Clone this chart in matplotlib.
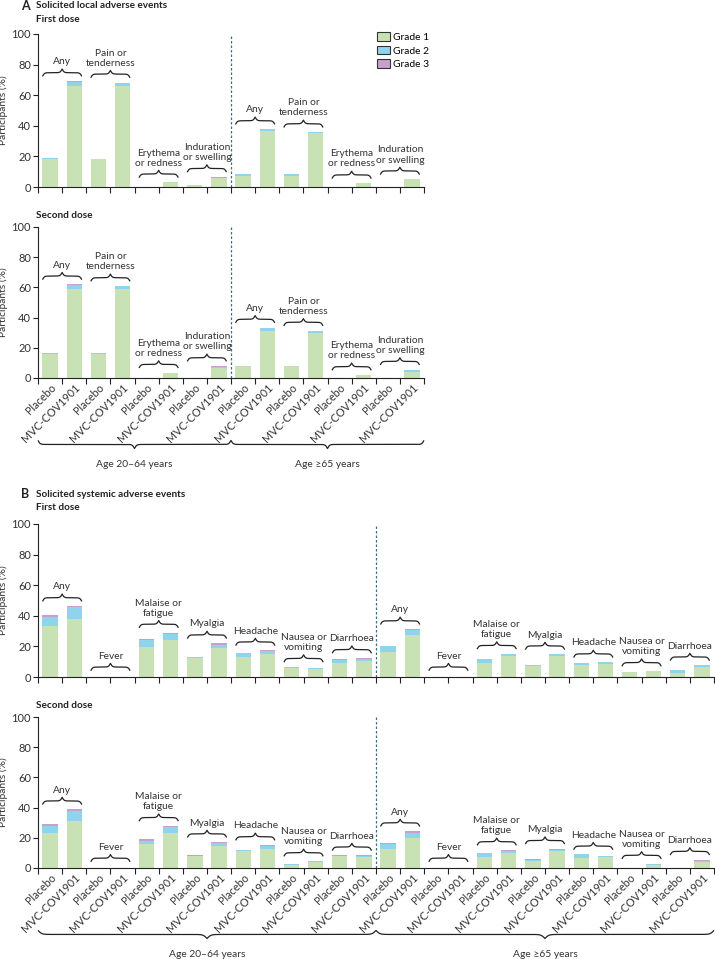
import numpy as np
import matplotlib.pyplot as plt
from matplotlib.patches import Patch

plt.rcParams['font.family'] = ['Lato', 'DejaVu Sans']

# --- Data (percent of participants) ---
groups = ["Placebo", "MVC-COV1901"]
ages = ["Age 20\u201364 years", "Age \u226565 years"]

local_cats = ["Any", "Pain or\ntenderness", "Erythema\nor redness", "Induration\nor swelling"]
sys_cats = ["Any", "Fever", "Malaise or\nfatigue", "Myalgia", "Headache", "Nausea or\nvomiting", "Diarrhoea"]

# order per age group: cat1 placebo, cat1 vaccine, cat2 placebo, ...
local_d1_g1 = [18.0, 66.0, 18.0, 66.0, 0, 3.0, 1.2, 5.8,
               7.2, 36.7, 7.2, 35.1, 0, 2.4, 0, 5.0]
local_d1_g2 = [0.8, 2.5, 0.3, 1.8, 0, 0, 0, 0.4,
               1.5, 1.1, 1.5, 0.7, 0, 0, 0, 0]
local_d1_g3 = [0, 0.7, 0, 0.5, 0, 0, 0, 0.4,
               0, 0, 0, 0, 0, 0, 0, 0]

local_d2_g1 = [15.8, 58.7, 15.8, 58.7, 0, 3.5, 0, 6.4,
               7.9, 31.4, 7.9, 29.9, 0, 2.0, 0, 4.2]
local_d2_g2 = [0.5, 2.6, 0.7, 2.0, 0, 0, 0, 1.0,
               0, 1.6, 0, 1.1, 0, 0, 0, 1.3]
local_d2_g3 = [0.2, 0.7, 0, 0.2, 0, 0, 0, 0.5,
               0, 0.4, 0, 0.4, 0, 0, 0, 0]

sys_d1_g1 = [33.2, 37.6, 0, 0.3, 19.7, 24.2, 12.7, 19.0, 13.1, 14.8, 5.9, 5.0, 9.0, 10.3,
             16.4, 27.7, 0, 0, 9.0, 14.0, 7.0, 13.5, 7.9, 8.7, 3.1, 3.9, 2.6, 6.6]
sys_d1_g2 = [6.1, 7.9, 0, 0, 4.3, 4.0, 0.6, 2.2, 2.6, 2.0, 0.5, 0.7, 2.0, 1.6,
             3.7, 2.8, 0, 0, 2.6, 0.8, 1.1, 1.3, 1.3, 0.9, 0, 0, 2.0, 1.0]
sys_d1_g3 = [0.9, 0.8, 0, 0, 0.6, 0.8, 0, 0.8, 0, 0.6, 0.2, 0, 0.6, 0.5,
             0, 0.7, 0, 0, 0, 0.3, 0, 0, 0, 0, 0, 0, 0, 0]

sys_d2_g1 = [23.5, 30.8, 0, 0, 15.6, 23.1, 7.7, 14.3, 11.0, 12.5, 2.2, 3.7, 7.9, 7.0,
             12.5, 20.0, 0, 0.2, 7.5, 9.7, 4.4, 11.2, 6.8, 7.5, 0.3, 2.0, 0.3, 4.0]
sys_d2_g2 = [4.6, 7.2, 0, 0, 2.6, 4.2, 0.3, 2.2, 1.1, 2.2, 0.7, 0.7, 0.2, 1.2,
             3.3, 3.5, 0, 0, 2.2, 1.5, 1.1, 1.0, 2.2, 0.6, 0, 0.9, 0, 0.9]
sys_d2_g3 = [0.9, 0.9, 0, 0, 0.7, 0.6, 0.8, 0.6, 0, 0.5, 0, 0.2, 0.3, 0.2,
             0.7, 0.9, 0, 0, 0, 0.7, 0.7, 0.5, 0, 0, 0, 0, 0, 0.6]

# --- Style ---
C_G1 = '#c8e2b6'
C_G2 = '#8ed4ec'
C_G3 = '#c8a0c9'
INK = '#222222'
TXT = '#333333'
DASH = '#3b7282'
FS = 7.4
W_PX, H_PX = 715, 959
BAR_W = 0.63


def draw_brace(ax, x0, x1, y, h, beta=20, flip=False, lw=0.9):
    t = np.linspace(0, 1, 150)
    half = 1 / (1 + np.exp(-beta * t)) + 1 / (1 + np.exp(-beta * (t - 1))) - 1
    xm = (x0 + x1) / 2
    xs = np.concatenate([x0 + t * (xm - x0), xm + t * (x1 - xm)])
    ys = np.concatenate([half, half[::-1]])
    if flip:
        ys = -ys
    ax.plot(xs, y + h * ys, color=INK, lw=lw, clip_on=False, solid_capstyle='butt')


def ax_rect(left_px, top_px, right_px, bottom_px):
    return [left_px / W_PX, 1 - bottom_px / H_PX,
            (right_px - left_px) / W_PX, (bottom_px - top_px) / H_PX]


def draw_panel(ax, cats, g1, g2, g3, show_labels, age_bracket):
    g1, g2, g3 = np.array(g1), np.array(g2), np.array(g3)
    n = len(g1)
    x = np.arange(n)
    ax.bar(x, g1, BAR_W, color=C_G1, linewidth=0)
    ax.bar(x, g2, BAR_W, bottom=g1, color=C_G2, linewidth=0)
    ax.bar(x, g3, BAR_W, bottom=g1 + g2, color=C_G3, linewidth=0)
    ax.set_xlim(-0.5, n - 0.5)
    ax.set_ylim(0, 100)

    for s in ['top', 'right']:
        ax.spines[s].set_visible(False)
    for s in ['left', 'bottom']:
        ax.spines[s].set_linewidth(0.8)
        ax.spines[s].set_color(INK)
    ax.set_yticks([0, 20, 40, 60, 80, 100])
    ax.tick_params(axis='y', labelsize=FS + 0.6, length=3.5, width=0.8, color=INK,
                   labelcolor=TXT, pad=1.5)
    ax.set_xticks(np.arange(-0.5, n, 1.0))
    ax.set_xticklabels([])
    ax.tick_params(axis='x', which='major', length=4, width=0.8, color=INK)
    ax.set_ylabel('Participants (%)', fontsize=FS, color=TXT, labelpad=2.5)

    if show_labels:
        ax.set_xticks(x, [groups[i % 2] for i in x], minor=True)
        ax.tick_params(axis='x', which='minor', length=0, pad=3)
        for lab in ax.get_xticklabels(minor=True):
            lab.set_rotation(45)
            lab.set_ha('right')
            lab.set_va('top')
            lab.set_rotation_mode('anchor')
            lab.set_fontsize(FS + 0.4)
            lab.set_color(TXT)

    # divider between age groups
    half_n = n // 2
    ax.axvline(half_n - 0.5, color=DASH, lw=0.9, ls=(0, (2, 1.6)))

    # category braces and labels
    tops = g1 + g2 + g3
    ncat = len(cats)
    for a in range(2):
        for c in range(ncat):
            i = a * half_n + 2 * c
            yb = max(tops[i], tops[i + 1]) + 5.5
            yb = max(yb, 6.5)
            draw_brace(ax, i - BAR_W / 2, i + 1 + BAR_W / 2, yb, 4.8)
            ax.text(i + 0.5, yb + 4.2, cats[c], ha='center', va='bottom',
                    fontsize=FS, color=TXT, linespacing=1.15)

    if age_bracket:
        for a in range(2):
            x0 = a * half_n - 0.5
            x1 = x0 + half_n
            draw_brace(ax, x0, x1, -44, 5.4, beta=90, flip=True)
            ax.text((x0 + x1) / 2, -57, ages[a], ha='center', va='center',
                    fontsize=FS, color=TXT)


fig = plt.figure(figsize=(7.15, 9.59), dpi=100)

# === Panel A ===
axA1 = fig.add_axes(ax_rect(38, 34, 424, 187))
draw_panel(axA1, local_cats, local_d1_g1, local_d1_g2, local_d1_g3, False, False)
axA2 = fig.add_axes(ax_rect(38, 227, 424, 378))
draw_panel(axA2, local_cats, local_d2_g1, local_d2_g2, local_d2_g3, True, True)

# === Panel B ===
axB1 = fig.add_axes(ax_rect(38, 524, 714, 677))
draw_panel(axB1, sys_cats, sys_d1_g1, sys_d1_g2, sys_d1_g3, False, False)
axB2 = fig.add_axes(ax_rect(38, 717, 714, 868))
draw_panel(axB2, sys_cats, sys_d2_g1, sys_d2_g2, sys_d2_g3, True, True)

# titles
def ftext(xp, yp, s, **kw):
    fig.text(xp / W_PX, 1 - yp / H_PX, s, va='center', color=INK, **kw)

TFS = 7.2
ftext(21, 6, 'A', fontsize=9, fontweight='bold')
ftext(36, 6, 'Solicited local adverse events', fontsize=TFS, fontweight='bold')
ftext(36, 19, 'First dose', fontsize=TFS, fontweight='bold')
ftext(36, 215, 'Second dose', fontsize=TFS, fontweight='bold')
ftext(21, 494, 'B', fontsize=9, fontweight='bold')
ftext(36, 494, 'Solicited systemic adverse events', fontsize=TFS, fontweight='bold')
ftext(36, 508, 'First dose', fontsize=TFS, fontweight='bold')
ftext(36, 705, 'Second dose', fontsize=TFS, fontweight='bold')

# legend
handles = [Patch(facecolor=C_G1, edgecolor='#333333', lw=0.8),
           Patch(facecolor=C_G2, edgecolor='#333333', lw=0.8),
           Patch(facecolor=C_G3, edgecolor='#333333', lw=0.8)]
fig.legend(handles, ['Grade 1', 'Grade 2', 'Grade 3'], loc='upper left',
           bbox_to_anchor=(377 / W_PX, 1 - 32 / H_PX), frameon=False,
           fontsize=FS, handlelength=1.3, handleheight=0.9, handletextpad=0.3,
           labelspacing=0.38, borderpad=0, borderaxespad=0)

fig.savefig('out.png', dpi=100)
